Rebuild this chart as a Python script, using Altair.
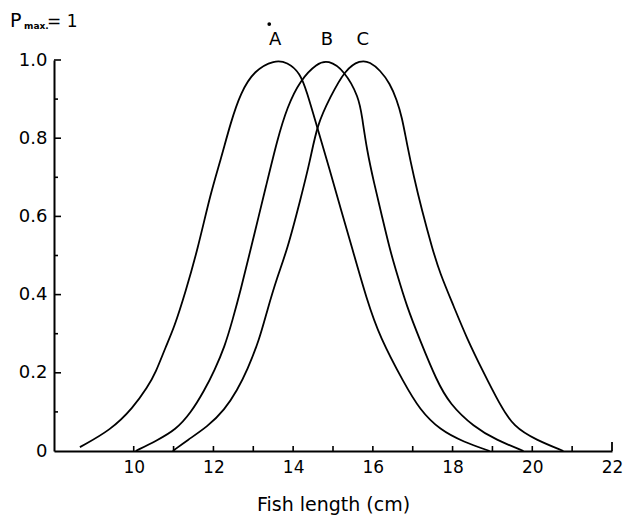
import altair as alt
import pandas as pd

# ---- data ----
a_x = [8.65, 9.43, 9.98, 10.35, 10.55, 10.8, 11.02, 11.3, 11.6, 11.93, 12.18, 12.43, 12.68,
       13.03, 13.53, 13.85, 14.18, 14.35, 14.55, 14.93, 15.18, 15.45, 15.85, 16.18, 16.78,
       17.18, 17.68, 18.28, 18.93]
a_y = [0.01, 0.054, 0.11, 0.164, 0.20, 0.266, 0.317, 0.407, 0.514, 0.66, 0.744, 0.839, 0.916,
       0.974, 1.0, 0.995, 0.967, 0.916, 0.847, 0.715, 0.624, 0.53, 0.386, 0.29, 0.174,
       0.105, 0.054, 0.023, 0.0]

b_x = [10.05, 10.6, 11.05, 11.43, 11.78, 12.03, 12.28, 12.48, 12.68, 12.93, 13.35, 13.6,
       13.85, 14.18, 14.6, 14.88, 15.28, 15.65, 15.73, 15.85, 16.03, 16.23, 16.43, 16.6,
       16.85, 17.18, 17.6, 17.93, 18.53, 19.1, 19.78]
b_y = [0.0, 0.028, 0.054, 0.097, 0.156, 0.207, 0.266, 0.335, 0.41, 0.514, 0.69, 0.795,
       0.88, 0.949, 0.992, 1.0, 0.974, 0.905, 0.854, 0.77, 0.685, 0.6, 0.514, 0.455,
       0.37, 0.284, 0.18, 0.12, 0.062, 0.028, 0.0]

c_x = [10.98, 11.35, 11.85, 12.28, 12.6, 12.85, 13.15, 13.35, 13.6, 13.85, 14.18, 14.43,
       14.6, 14.93, 15.3, 15.68, 15.93, 16.18, 16.43, 16.6, 16.73, 16.85, 17.03, 17.23,
       17.48, 17.68, 18.03, 18.35, 18.78, 19.18, 19.53, 20.1, 20.78]
c_y = [0.0, 0.028, 0.062, 0.105, 0.156, 0.207, 0.284, 0.36, 0.445, 0.514, 0.642, 0.744,
       0.834, 0.905, 0.975, 1.0, 0.995, 0.974, 0.94, 0.898, 0.854, 0.788, 0.70, 0.616,
       0.522, 0.455, 0.37, 0.29, 0.2, 0.12, 0.062, 0.028, 0.0]

curve_names = ["A", "B", "C"]
label_x = [13.55, 14.85, 15.75]
label_y = [1.052, 1.052, 1.052]
dot_x = [13.4]
dot_y = [1.092]

x_labels = [10, 12, 14, 16, 18, 20, 22]
x_ticks = [10, 11, 12, 13, 14, 15, 16, 17, 18, 19, 20, 21]
x_end_tick = [22]
y_labels = [0, 0.2, 0.4, 0.6, 0.8, 1.0]
y_major = [0.2, 0.4, 0.6, 0.8, 1.0]
y_minor = [0.1, 0.3, 0.5, 0.7, 0.9]

pmax_main = ["P"]
pmax_sub = ["max."]
pmax_rest = ["= 1"]

FONT = "DejaVu Sans"
W, H = 558, 391

curves = pd.DataFrame({
    "length": a_x + b_x + c_x,
    "p": a_y + b_y + c_y,
    "curve": ["A"] * len(a_x) + ["B"] * len(b_x) + ["C"] * len(c_x),
})

xs = alt.Scale(domain=[8, 22], nice=False, zero=False)
ys = alt.Scale(domain=[0, 1], nice=False, zero=False)

x_axis = alt.Axis(values=x_labels, ticks=False, grid=False, domainColor="black",
                  domainWidth=2, labelFont=FONT, labelFontSize=17, labelColor="black",
                  labelPadding=8, labelFlush=False, title="Fish length (cm)",
                  titleFont=FONT, titleFontSize=19, titleFontWeight="normal",
                  titleColor="black", titlePadding=20)
y_axis = alt.Axis(values=y_labels, ticks=False, grid=False, domainColor="black",
                  domainWidth=2, labelFont=FONT, labelFontSize=18, labelColor="black",
                  labelPadding=7, labelFlush=False, title="",
                  labelExpr="datum.value == 0 ? '0' : format(datum.value, '.1f')")


def X(field):
    return alt.X(field, scale=xs, axis=x_axis)


def Y(field):
    return alt.Y(field, scale=ys, axis=y_axis)


lines = alt.Chart(curves).mark_line(color="black", strokeWidth=1.8,
                                    interpolate="basis").encode(
    x=X("length:Q"), y=Y("p:Q"), detail="curve:N",
)

ymaj = alt.Chart(pd.DataFrame({"v": y_major})).mark_rule(color="black", strokeWidth=1.6).encode(
    y=Y("v:Q"), x=alt.value(0), x2=alt.value(7))
ymin = alt.Chart(pd.DataFrame({"v": y_minor})).mark_rule(color="black", strokeWidth=1.6).encode(
    y=Y("v:Q"), x=alt.value(0), x2=alt.value(4))
xt = alt.Chart(pd.DataFrame({"v": x_ticks})).mark_rule(color="black", strokeWidth=1.6).encode(
    x=X("v:Q"), y=alt.value(H), y2=alt.value(H - 5))
xe = alt.Chart(pd.DataFrame({"v": x_end_tick})).mark_rule(color="black", strokeWidth=1.8).encode(
    x=X("v:Q"), y=alt.value(H), y2=alt.value(H - 9))

labels = alt.Chart(pd.DataFrame({"x": label_x, "y": label_y, "t": curve_names})).mark_text(
    font=FONT, fontSize=18, color="black", baseline="middle", align="center").encode(
    x=X("x:Q"), y=Y("y:Q"), text="t:N")

dot = alt.Chart(pd.DataFrame({"x": dot_x, "y": dot_y})).mark_point(
    filled=True, color="black", size=14, opacity=1).encode(
    x=X("x:Q"), y=Y("y:Q"))

p1 = alt.Chart(pd.DataFrame({"t": pmax_main})).mark_text(
    font=FONT, fontSize=19, color="black", align="left", baseline="alphabetic").encode(
    x=alt.value(-44), y=alt.value(-33), text="t:N")
p2 = alt.Chart(pd.DataFrame({"t": pmax_sub})).mark_text(
    font=FONT, fontSize=9, fontWeight="bold", color="black", align="left",
    baseline="alphabetic").encode(x=alt.value(-30), y=alt.value(-31), text="t:N")
p3 = alt.Chart(pd.DataFrame({"t": pmax_rest})).mark_text(
    font=FONT, fontSize=17, color="black", align="left", baseline="alphabetic").encode(
    x=alt.value(-7), y=alt.value(-33), text="t:N")

chart = alt.layer(lines, ymaj, ymin, xt, xe, labels, dot, p1, p2, p3).properties(
    width=W, height=H,
    autosize=alt.AutoSizeParams(type="none"),
    padding={"left": 46, "top": 52, "right": 11, "bottom": 65},
).configure_view(stroke=None)

chart.save("out.html", embed_options={"renderer": "svg", "actions": False})
